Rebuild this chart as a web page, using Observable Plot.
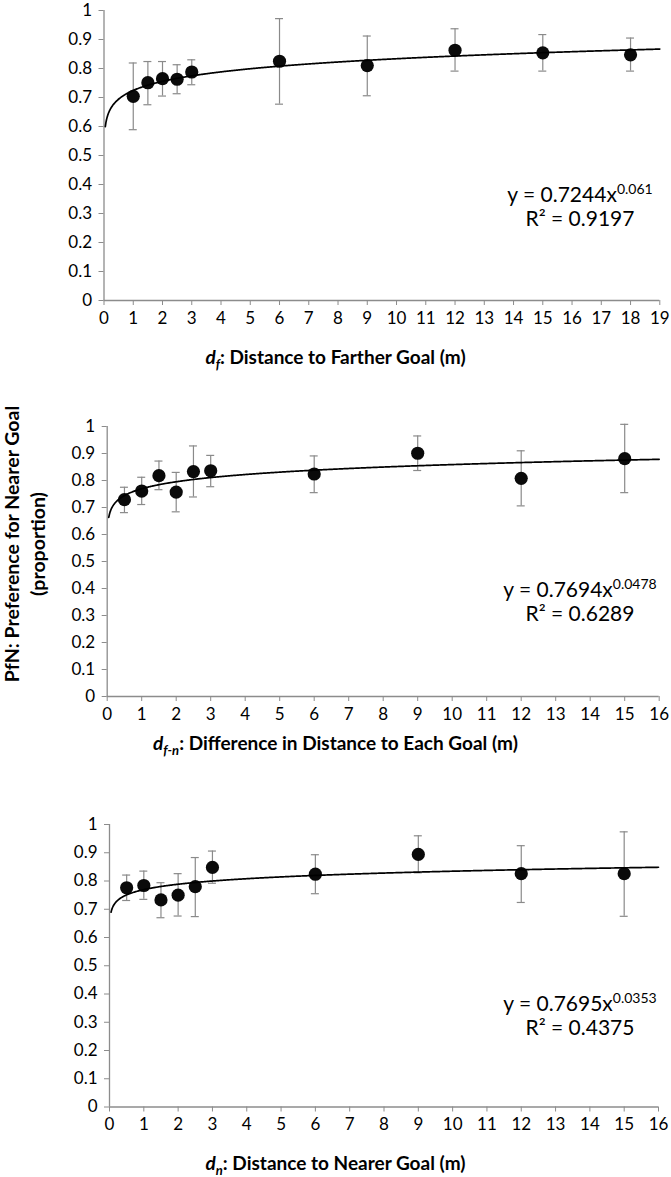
<!DOCTYPE html>
<html>
<head>
<meta charset="utf-8">
<script src="https://cdn.jsdelivr.net/npm/d3@7"></script>
<script src="https://cdn.jsdelivr.net/npm/@observablehq/plot@0.6"></script>
<style>
  html, body { margin: 0; padding: 0; background: #fff; }
  body { width: 671px; height: 1177px; position: relative; overflow: hidden; font-family: Lato, "Open Sans", sans-serif; color: #000; }
  .panel { position: absolute; left: 0; }
  .panel svg { overflow: visible; }
  .panel g[aria-label="y-axis tick"] path, .panel g[aria-label="x-axis tick"] path { stroke: #8c8c8c; }
  .xtitle { position: absolute; left: 0; width: 671px; text-align: center; font-weight: bold; font-size: 19px; line-height: 1; }
  .xtitle sub { font-size: 13px; vertical-align: -5px; line-height: 0; }
  .eq { position: absolute; width: 220px; text-align: center; font-size: 21px; line-height: 1; white-space: nowrap; }
  .eq sup { font-size: 14px; position: relative; top: -8px; vertical-align: baseline; line-height: 0; }
  .ytitle { position: absolute; left: 25px; top: 544px; width: 0; height: 0; }
  .ytitle div { position: absolute; transform: translate(-50%, -50%) rotate(-90deg); white-space: nowrap; font-weight: bold; font-size: 19.5px; text-align: center; line-height: 26px; }
</style>
</head>
<body>
<div class="ytitle"><div>PfN: Preference for Nearer Goal<br>(proportion)</div></div>
<script>
// ---- Panel 1: d_f, distance to farther goal ----
const farX   = [1, 1.5, 2, 2.5, 3, 6, 9, 12, 15, 18];
const farY   = [0.704, 0.751, 0.765, 0.763, 0.788, 0.825, 0.810, 0.863, 0.854, 0.847];
const farLo  = [0.589, 0.675, 0.705, 0.713, 0.744, 0.677, 0.706, 0.791, 0.791, 0.791];
const farHi  = [0.819, 0.824, 0.824, 0.813, 0.830, 0.972, 0.912, 0.937, 0.917, 0.905];
const farFit = [0.7244, 0.061];   // y = a * x^b
const farR2  = "0.9197";

// ---- Panel 2: d_f-n, difference in distance ----
const diffX   = [0.5, 1, 1.5, 2, 2.5, 3, 6, 9, 12, 15];
const diffY   = [0.729, 0.761, 0.818, 0.757, 0.833, 0.836, 0.824, 0.901, 0.808, 0.881];
const diffLo  = [0.681, 0.711, 0.766, 0.684, 0.739, 0.777, 0.755, 0.837, 0.706, 0.755];
const diffHi  = [0.775, 0.812, 0.872, 0.830, 0.928, 0.893, 0.891, 0.965, 0.910, 1.008];
const diffFit = [0.7694, 0.0478];
const diffR2  = "0.6289";

// ---- Panel 3: d_n, distance to nearer goal ----
const nearX   = [0.5, 1, 1.5, 2, 2.5, 3, 6, 9, 12, 15];
const nearY   = [0.776, 0.784, 0.733, 0.750, 0.780, 0.848, 0.824, 0.894, 0.826, 0.826];
const nearLo  = [0.731, 0.735, 0.670, 0.676, 0.674, 0.792, 0.755, 0.829, 0.724, 0.675];
const nearHi  = [0.821, 0.835, 0.794, 0.826, 0.883, 0.906, 0.893, 0.960, 0.925, 0.974];
const nearFit = [0.7695, 0.0353];
const nearR2  = "0.4375";

const yTicks = [0, 0.1, 0.2, 0.3, 0.4, 0.5, 0.6, 0.7, 0.8, 0.9, 1];
const xTicks19 = d3.range(0, 20);
const xTicks16 = d3.range(0, 17);

const panels = [
  {xs: farX, ys: farY, lo: farLo, hi: farHi, fit: farFit, r2: farR2, xMax: 19, xTicks: xTicks19,
   left: 103.5, right: 659.3, yTop: 10, yBottom: 300, titleY: 347, eqY: 183,
   title: '<i>d<sub>f</sub></i>: Distance to Farther Goal (m)'},
  {xs: diffX, ys: diffY, lo: diffLo, hi: diffHi, fit: diffFit, r2: diffR2, xMax: 16, xTicks: xTicks16,
   left: 106.7, right: 658.7, yTop: 425.5, yBottom: 695.5, titleY: 733, eqY: 578,
   title: '<i>d<sub>f-n</sub></i>: Difference in Distance to Each Goal (m)'},
  {xs: nearX, ys: nearY, lo: nearLo, hi: nearHi, fit: nearFit, r2: nearR2, xMax: 16, xTicks: xTicks16,
   left: 109, right: 658, yTop: 824, yBottom: 1106.5, titleY: 1153, eqY: 992,
   title: '<i>d<sub>n</sub></i>: Distance to Nearer Goal (m)'}
];

const fmtY = d => String(+d.toFixed(1));

function addDiv(cls, top, left, html) {
  const el = document.createElement("div");
  el.className = cls;
  el.style.top = top + "px";
  if (left != null) el.style.left = left + "px";
  el.innerHTML = html;
  document.body.appendChild(el);
}

for (const p of panels) {
  const data = p.xs.map((x, i) => ({x, y: p.ys[i], lo: p.lo[i], hi: p.hi[i]}));
  const [a, b] = p.fit;
  const curve = d3.range(0.045, p.xMax + 1e-9, 0.02).concat([p.xMax]).map(x => ({x, y: a * Math.pow(x, b)}));
  const mt = 20, mb = 40;
  const chart = Plot.plot({
    width: 671,
    height: (p.yBottom - p.yTop) + mt + mb,
    marginLeft: p.left,
    marginRight: 671 - p.right,
    marginTop: mt,
    marginBottom: mb,
    style: {fontFamily: "Lato, 'Open Sans', sans-serif", fontSize: "17px", color: "#000", background: "transparent", overflow: "visible"},
    x: {domain: [0, p.xMax]},
    y: {domain: [0, 1]},
    marks: [
      Plot.ruleX([0], {stroke: "#8c8c8c", strokeWidth: 1.3}),
      Plot.ruleY([0], {stroke: "#8c8c8c", strokeWidth: 1.3}),
      Plot.axisY({ticks: yTicks, tickFormat: fmtY, tickSize: 5, tickPadding: 7, label: null}),
      Plot.axisX({ticks: p.xTicks, tickFormat: d => String(d), tickSize: 5, tickPadding: 6, label: null}),
      Plot.ruleX(data, {x: "x", y1: "lo", y2: "hi", stroke: "#8a8a8a", strokeWidth: 1.2}),
      Plot.ruleY(data, {y: "hi", x1: "x", x2: "x", insetLeft: -4, insetRight: -4, stroke: "#8a8a8a", strokeWidth: 1.2}),
      Plot.ruleY(data, {y: "lo", x1: "x", x2: "x", insetLeft: -4, insetRight: -4, stroke: "#8a8a8a", strokeWidth: 1.2}),
      Plot.dot(data, {x: "x", y: "y", r: 6.6, fill: "#0a0a0a", stroke: "none"}),
      Plot.line(curve, {x: "x", y: "y", stroke: "#000", strokeWidth: 1.7, curve: "linear"})
    ]
  });
  const wrap = document.createElement("div");
  wrap.className = "panel";
  wrap.style.top = (p.yTop - mt) + "px";
  wrap.appendChild(chart);
  document.body.appendChild(wrap);

  addDiv("xtitle", p.titleY, null, p.title);
  addDiv("eq", p.eqY, 470, `y = ${a}x<sup>${b}</sup>`);
  addDiv("eq", p.eqY + 24, 470, `R² = ${p.r2}`);
}
</script>
</body>
</html>
